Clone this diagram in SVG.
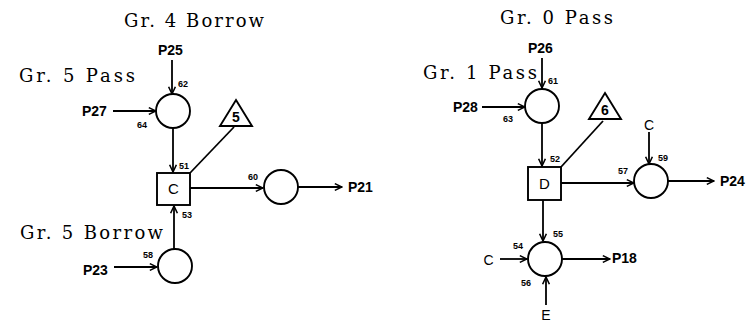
<svg xmlns="http://www.w3.org/2000/svg" width="749" height="328" viewBox="0 0 749 328">
<style>
.bg{fill:#fff}
.ln{stroke:#000;stroke-width:1.8;fill:none}
.arr{marker-end:url(#ah)}
.nd{fill:#fff;stroke:#000;stroke-width:1.9}
.ser{font-family:"DejaVu Serif","Liberation Serif",serif;font-size:18px;fill:#000}
.pl{font-family:"Liberation Sans",Arial,sans-serif;font-size:14px;font-weight:bold;fill:#000}
.sm{font-family:"Liberation Sans",Arial,sans-serif;font-size:9px;font-weight:bold;fill:#000}
.bx{font-family:"Liberation Sans",Arial,sans-serif;font-size:15px;fill:#000;text-anchor:middle}
.lt{font-family:"Liberation Sans",Arial,sans-serif;font-size:14px;fill:#000;text-anchor:middle}
.tr{font-family:"Liberation Sans",Arial,sans-serif;font-size:14px;font-weight:bold;fill:#000;text-anchor:middle}
</style>
<defs>
<marker id="ah" viewBox="0 0 10 10" refX="9.5" refY="5" markerWidth="9" markerHeight="8" markerUnits="userSpaceOnUse" orient="auto">
<path d="M0.5,0.8 L9.5,5 L0.5,9.2" fill="none" stroke="#000" stroke-width="1.9"/>
</marker>
</defs>
<rect class="bg" width="749" height="328"/>

<g id="headings">
<text class="ser" x="124" y="27" textLength="140" lengthAdjust="spacing">Gr. 4 Borrow</text>
<text class="ser" x="19" y="82" textLength="116" lengthAdjust="spacing">Gr. 5 Pass</text>
<text class="ser" x="20" y="239" textLength="143" lengthAdjust="spacing">Gr. 5 Borrow</text>
<text class="ser" x="500" y="24" textLength="113" lengthAdjust="spacing">Gr. 0 Pass</text>
<text class="ser" x="423" y="79" textLength="114" lengthAdjust="spacing">Gr. 1 Pass</text>
</g>

<g id="connectors">
<line class="ln arr" x1="172" y1="60" x2="172" y2="94"/>
<line class="ln arr" x1="113" y1="111" x2="156" y2="111"/>
<line class="ln arr" x1="173" y1="128" x2="173" y2="172"/>
<line class="ln" x1="234" y1="127" x2="190" y2="173"/>
<line class="ln arr" x1="190" y1="188" x2="263" y2="188"/>
<line class="ln arr" x1="298" y1="187" x2="342" y2="187"/>
<line class="ln arr" x1="174" y1="249" x2="174" y2="206"/>
<line class="ln arr" x1="114" y1="267" x2="157" y2="267"/>

<line class="ln arr" x1="542" y1="58" x2="542" y2="88"/>
<line class="ln arr" x1="482" y1="107" x2="525" y2="107"/>
<line class="ln arr" x1="542" y1="123" x2="542" y2="166"/>
<line class="ln" x1="603" y1="121" x2="561" y2="167"/>
<line class="ln arr" x1="649" y1="132" x2="649" y2="164"/>
<line class="ln arr" x1="561" y1="183" x2="634" y2="183"/>
<line class="ln arr" x1="668" y1="181" x2="714" y2="181"/>
<line class="ln arr" x1="543" y1="200" x2="543" y2="241"/>
<line class="ln arr" x1="500" y1="259" x2="527" y2="259"/>
<line class="ln arr" x1="546" y1="305" x2="546" y2="277"/>
<line class="ln arr" x1="562" y1="259" x2="610" y2="259"/>
</g>

<g id="n62">
<circle class="nd" cx="173" cy="111" r="17"/>
<text class="pl" x="158" y="55">P25</text>
<text class="pl" x="82" y="116">P27</text>
<text class="sm" x="178" y="87">62</text>
<text class="sm" x="137" y="128">64</text>
</g>
<g id="boxC">
<rect class="nd" x="157" y="173" width="33" height="32"/>
<text class="bx" x="173.5" y="194">C</text>
<text class="sm" x="179" y="169">51</text>
<text class="sm" x="182" y="218">53</text>
</g>
<g id="tri5">
<polygon class="nd" points="236,100 252,126 220,126"/>
<text class="tr" x="236" y="122">5</text>
</g>
<g id="n60">
<circle class="nd" cx="281" cy="187" r="17"/>
<text class="sm" x="248" y="180">60</text>
<text class="pl" x="348" y="192">P21</text>
</g>
<g id="n58">
<circle class="nd" cx="175" cy="266" r="17"/>
<text class="pl" x="83" y="275">P23</text>
<text class="sm" x="143" y="258">58</text>
</g>

<g id="n61">
<circle class="nd" cx="542" cy="106" r="17"/>
<text class="pl" x="528" y="53">P26</text>
<text class="pl" x="453" y="112">P28</text>
<text class="sm" x="548" y="84">61</text>
<text class="sm" x="503" y="122">63</text>
</g>
<g id="boxD">
<rect class="nd" x="528" y="167" width="33" height="33"/>
<text class="bx" x="544.5" y="189">D</text>
<text class="sm" x="550" y="162">52</text>
</g>
<g id="tri6">
<polygon class="nd" points="605,93 621,119 589,119"/>
<text class="tr" x="605" y="115">6</text>
</g>
<g id="n59">
<circle class="nd" cx="651" cy="181" r="17"/>
<text class="lt" x="649" y="130">C</text>
<text class="sm" x="658" y="161">59</text>
<text class="sm" x="618" y="174">57</text>
<text class="pl" x="720" y="186">P24</text>
</g>
<g id="n55">
<circle class="nd" cx="545" cy="259" r="17"/>
<text class="sm" x="553" y="237">55</text>
<text class="sm" x="513" y="249">54</text>
<text class="sm" x="521" y="286">56</text>
<text class="lt" x="488.5" y="265">C</text>
<text class="lt" x="546" y="320">E</text>
<text class="pl" x="612" y="263">P18</text>
</g>
</svg>
